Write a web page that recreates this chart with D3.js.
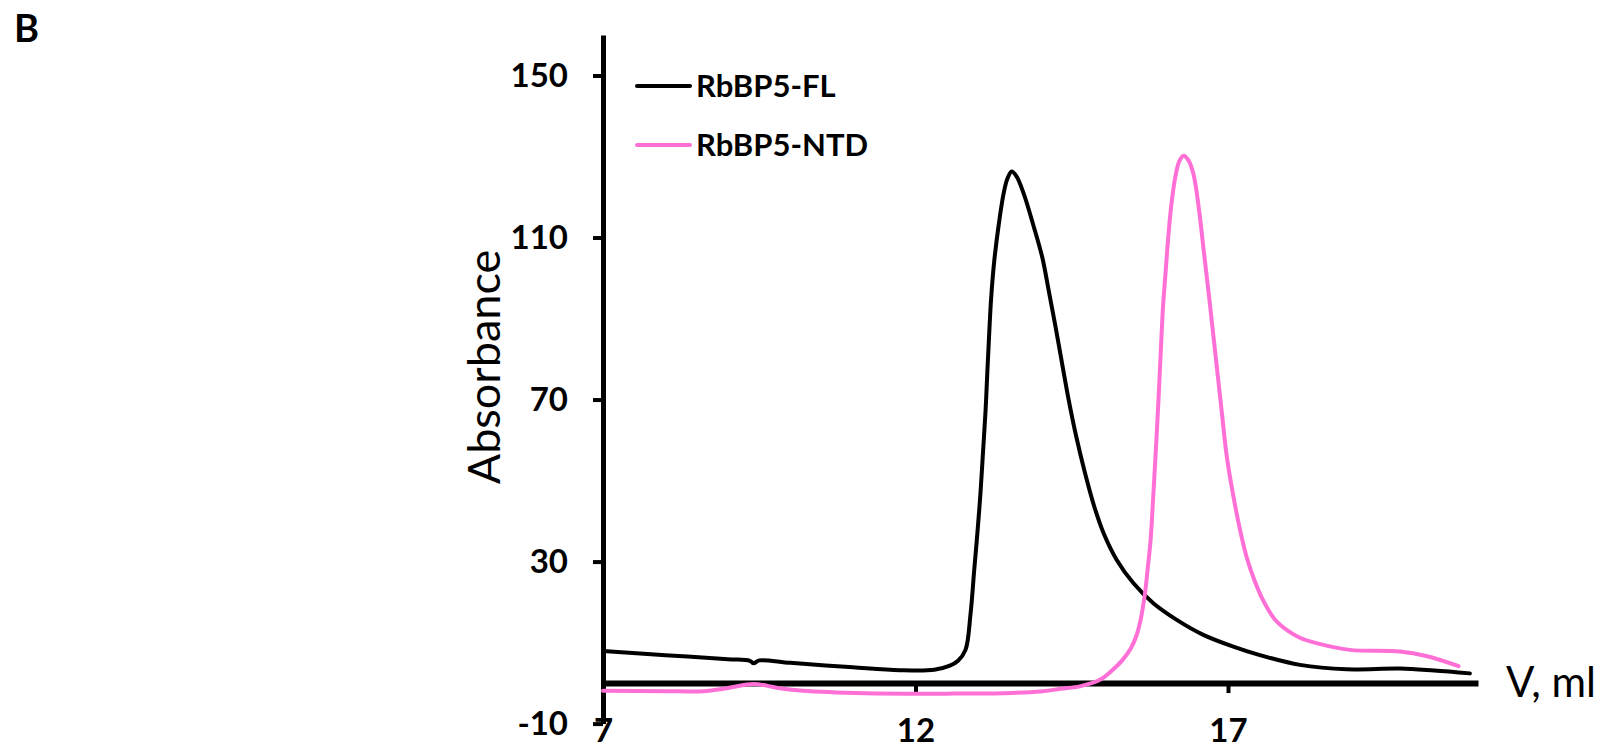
<!DOCTYPE html>
<html>
<head>
<meta charset="utf-8">
<script src="https://cdn.jsdelivr.net/npm/d3@7"></script>
<style>
  body { margin: 0; background: #fff; }
  svg text { font-family: Lato, "Open Sans", sans-serif; fill: #000; }
</style>
</head>
<body>
<div id="plot-area"></div>
<script>
// elution volume (ml) and absorbance
const flVolume = [7.0, 8.0, 9.0, 9.35, 9.41, 9.5, 10.0, 11.0, 11.75, 12.3, 12.55, 12.68, 12.8, 12.88, 12.94, 12.99, 13.04, 13.08, 13.12, 13.15, 13.18, 13.21, 13.26, 13.33, 13.41, 13.47, 13.54, 13.62, 13.73, 13.89, 14.03, 14.13, 14.24, 14.35, 14.45, 14.57, 14.71, 14.86, 15.01, 15.22, 15.485, 15.805, 16.18, 16.605, 17.085, 17.51, 18.15, 18.9, 19.75, 20.3, 20.87];
const flAbs = [7.9, 6.9, 5.9, 5.5, 4.9, 5.6, 5.0, 3.9, 3.2, 3.3, 4.3, 5.5, 8.2, 17, 28, 37, 47, 57, 67, 77, 86.5, 95, 104.2, 113, 120.9, 124.5, 126.3, 125, 120.9, 112.8, 105, 97, 88, 78.5, 70, 61, 52, 43.6, 37.0, 30.4, 24.7, 19.7, 15.6, 11.9, 9.0, 6.9, 4.5, 3.4, 3.6, 3.1, 2.4];

const ntdVolume = [7.0, 8.0, 8.6, 9.0, 9.41, 9.8, 10.2, 11.2, 12.5, 13.4, 14.0, 14.32, 14.63, 14.95, 15.17, 15.3, 15.44, 15.53, 15.6, 15.67, 15.72, 15.76, 15.8, 15.84, 15.88, 15.92, 15.96, 16.0, 16.04, 16.09, 16.16, 16.22, 16.29, 16.37, 16.45, 16.53, 16.61, 16.7, 16.8, 16.9, 16.98, 17.07, 17.19, 17.3, 17.42, 17.55, 17.75, 17.95, 18.15, 18.43, 18.95, 19.75, 20.17, 20.69];
const ntdAbs = [-1.9, -2.0, -2.0, -1.2, -0.2, -1.2, -1.9, -2.5, -2.6, -2.5, -2.1, -1.4, -0.8, 0.8, 3.5, 5.5, 8.4, 11.5, 15.5, 22, 29, 35, 45, 56, 67.5, 80.4, 92.8, 101.1, 109.3, 117.6, 125.2, 128.8, 130.2, 129, 125.5, 117.6, 107, 95, 81, 67, 56, 47.5, 38, 31, 25.5, 20.8, 15.7, 13.0, 11.2, 9.8, 8.2, 7.8, 6.7, 4.2];

const seriesNames = ["RbBP5-FL", "RbBP5-NTD"];
const seriesColors = ["#000000", "#ff6fd5"];
const xTicks = [7, 12, 17];
const yTicks = [-10, 30, 70, 110, 150];

const w = 1606;
const h = 748;

const svg = d3
  .select("#plot-area")
  .append("svg")
  .attr("width", w)
  .attr("height", h);

const x = d3.scaleLinear().domain([7, 21]).range([603, 1478]);
const y = d3.scaleLinear().domain([-10, 160]).range([723.6, 35]);

// y axis
const yAxis = d3
  .axisLeft(y)
  .tickValues(yTicks)
  .tickFormat((d) => String(d))
  .tickSize(10)
  .tickSizeOuter(0)
  .tickPadding(25);
const gy = svg.append("g").attr("transform", `translate(${x(7)},0)`).call(yAxis);
gy.select(".domain").attr("stroke-width", 5);
gy.selectAll(".tick line").attr("stroke-width", 4);
gy.selectAll(".tick text")
  .attr("font-size", 33)
  .attr("font-weight", "bold")
  .attr("font-family", "Lato")
  .style("font-variant-numeric", "tabular-nums");

// x axis sits at absorbance 0
const xAxis = d3
  .axisBottom(x)
  .tickValues(xTicks)
  .tickFormat((d) => String(d))
  .tickSize(10)
  .tickSizeOuter(0)
  .tickPadding(25);
const gx = svg.append("g").attr("transform", `translate(0,${y(0)})`).call(xAxis);
gx.select(".domain").attr("stroke-width", 6);
gx.selectAll(".tick line").attr("stroke-width", 4);
gx.selectAll(".tick text")
  .attr("font-size", 33)
  .attr("font-weight", "bold")
  .attr("font-family", "Lato")
  .style("font-variant-numeric", "tabular-nums");

// curves
const series = [
  flVolume.map((v, i) => [v, flAbs[i]]),
  ntdVolume.map((v, i) => [v, ntdAbs[i]])
];
const line = d3
  .line()
  .x((d) => x(d[0]))
  .y((d) => y(d[1]))
  .curve(d3.curveCatmullRom.alpha(0.5));

svg
  .selectAll(".line")
  .data(series)
  .enter()
  .append("path")
  .attr("class", "line")
  .attr("d", line)
  .attr("fill", "none")
  .attr("stroke", (d, i) => seriesColors[i])
  .attr("stroke-width", 4)
  .attr("stroke-linejoin", "round")
  .attr("stroke-linecap", "round");

// legend
const legend = svg
  .selectAll(".legend")
  .data(seriesNames)
  .enter()
  .append("g")
  .attr("class", "legend")
  .attr("transform", (d, i) => `translate(0,${86 + i * 59})`);
legend
  .append("line")
  .attr("x1", 637)
  .attr("x2", 690)
  .attr("stroke", (d, i) => seriesColors[i])
  .attr("stroke-width", 4)
  .attr("stroke-linecap", "round");
legend
  .append("text")
  .attr("x", 696)
  .attr("y", 11)
  .attr("font-size", 31)
  .attr("font-weight", "bold")
  .text((d) => d);

// axis titles
svg
  .append("text")
  .attr("transform", "translate(500,367) rotate(-90)")
  .attr("text-anchor", "middle")
  .attr("font-size", 45)
  .text("Absorbance");

svg
  .append("text")
  .attr("x", 1506)
  .attr("y", 697)
  .attr("font-size", 42)
  .text("V, ml");

// panel letter
svg
  .append("text")
  .attr("x", 14)
  .attr("y", 42)
  .attr("font-size", 38)
  .attr("font-weight", "bold")
  .text("B");
</script>
</body>
</html>
